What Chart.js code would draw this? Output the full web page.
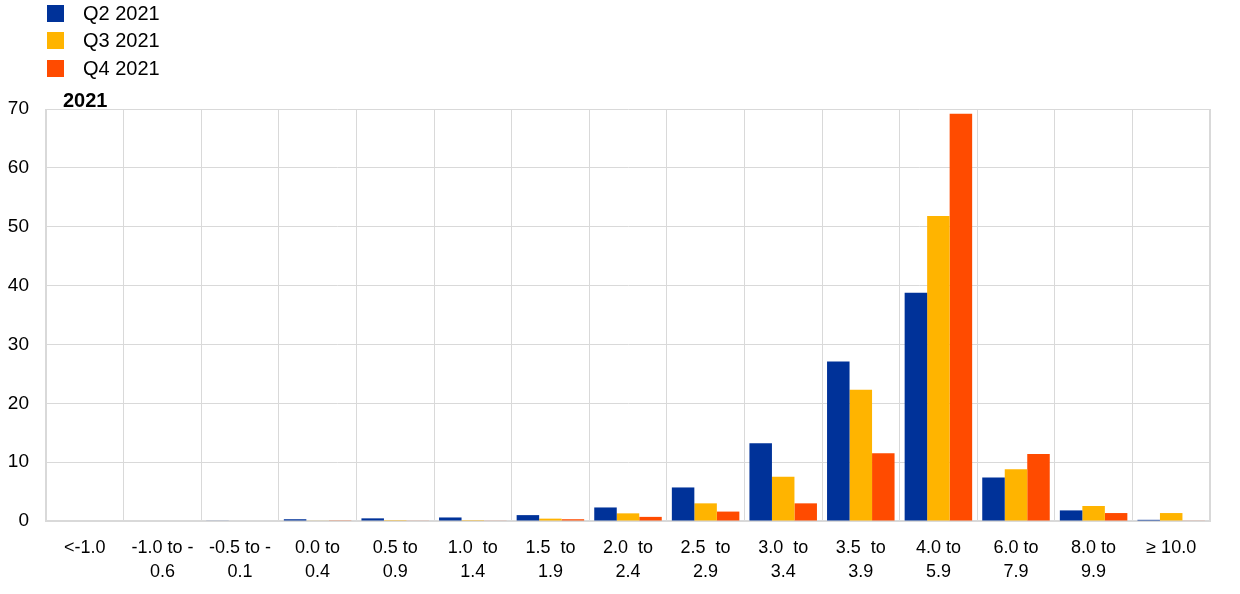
<!DOCTYPE html>
<html>
<head>
<meta charset="utf-8">
<script src="https://cdn.jsdelivr.net/npm/chart.js@4/dist/chart.umd.min.js"></script>
<style>
  html, body { margin: 0; padding: 0; background: #fff; }
  #wrap { position: relative; width: 1240px; height: 594px; font-family: "Liberation Sans", Arial, sans-serif; }
  canvas { position: absolute; left: 0; top: 0; }
  .leg { position: absolute; left: 47px; height: 18px; display: flex; align-items: center; font-size: 20px; color: #000; }
  .sw { width: 17px; height: 17px; margin-right: 19px; }
</style>
</head>
<body>
<div id="wrap">
  <canvas id="c" width="1240" height="594"></canvas>
  <div id="legend"></div>
</div>
<script>
const categories = [
  ["<-1.0"], ["-1.0 to -", "0.6"], ["-0.5 to -", "0.1"], ["0.0 to", "0.4"], ["0.5 to", "0.9"],
  ["1.0  to", "1.4"], ["1.5  to", "1.9"], ["2.0  to", "2.4"], ["2.5  to", "2.9"], ["3.0  to", "3.4"],
  ["3.5  to", "3.9"], ["4.0 to", "5.9"], ["6.0 to", "7.9"], ["8.0 to", "9.9"], ["\u2265 10.0"]
];
const seriesNames = ["Q2 2021", "Q3 2021", "Q4 2021"];
const seriesColors = ["#003299", "#FFB400", "#FF4B00"];
const q2 = [0, 0, 0.1, 0.3, 0.45, 0.6, 1.0, 2.3, 5.7, 13.2, 27.1, 38.8, 7.4, 1.8, 0.2];
const q3 = [0, 0, 0, 0.1, 0.15, 0.15, 0.4, 1.3, 3.0, 7.5, 22.3, 51.8, 8.8, 2.55, 1.35];
const q4 = [0, 0, 0, 0.05, 0.1, 0.1, 0.3, 0.7, 1.6, 3.0, 11.5, 69.2, 11.4, 1.35, 0.1];
const yTicks = [0, 10, 20, 30, 40, 50, 60, 70];
const panelTitle = "2021";

const FONT = '"Liberation Sans", Arial, sans-serif';
const GRID = "#d9d9d9";

// HTML legend
const legend = document.getElementById("legend");
seriesNames.forEach((n, i) => {
  const d = document.createElement("div");
  d.className = "leg";
  d.style.top = (4 + i * 27.5) + "px";
  d.innerHTML = '<div class="sw" style="background:' + seriesColors[i] + '"></div><span>' + n + '</span>';
  legend.appendChild(d);
});

const titlePlugin = {
  id: "panelTitle",
  afterDraw(chart) {
    const ctx = chart.ctx;
    ctx.save();
    ctx.font = "bold 20px " + FONT;
    ctx.fillStyle = "#000";
    ctx.textBaseline = "alphabetic";
    ctx.textAlign = "left";
    ctx.fillText(panelTitle, chart.chartArea.left + 17, chart.chartArea.top - 2);
    ctx.strokeStyle = GRID;
    ctx.lineWidth = 2;
    ctx.beginPath();
    ctx.moveTo(chart.chartArea.right, chart.chartArea.top);
    ctx.lineTo(chart.chartArea.right, chart.chartArea.bottom);
    ctx.stroke();
    ctx.restore();
  }
};

const datasets = [q2, q3, q4].map((d, i) => ({
  label: seriesNames[i],
  data: d,
  backgroundColor: seriesColors[i],
  borderWidth: 0,
  categoryPercentage: 0.87,
  barPercentage: 1.0
}));

new Chart(document.getElementById("c"), {
  type: "bar",
  data: { labels: categories, datasets },
  options: {
    responsive: false,
    animation: false,
    devicePixelRatio: 1,
    layout: { padding: { top: 109, right: 30, left: 0, bottom: 0 } },
    plugins: { legend: { display: false }, tooltip: { enabled: false } },
    scales: {
      x: {
        grid: { color: GRID, lineWidth: 1, drawTicks: false, offset: true },
        border: { color: GRID, width: 2 },
        ticks: {
          color: "#000",
          font: { family: FONT, size: 18, lineHeight: 1.34 },
          padding: 15,
          autoSkip: false,
          maxRotation: 0,
          minRotation: 0
        },
        afterFit(scale) { scale.height = 73; }
      },
      y: {
        min: 0, max: 70,
        afterBuildTicks(scale) { scale.ticks = yTicks.map(v => ({ value: v })); },
        grid: { color: GRID, lineWidth: 1, drawTicks: false },
        border: { color: GRID, width: 1 },
        ticks: {
          color: "#000",
          font: { family: FONT, size: 19 },
          padding: 17
        },
        afterFit(scale) { scale.width = 46; }
      }
    }
  },
  plugins: [titlePlugin]
});
</script>
</body>
</html>
